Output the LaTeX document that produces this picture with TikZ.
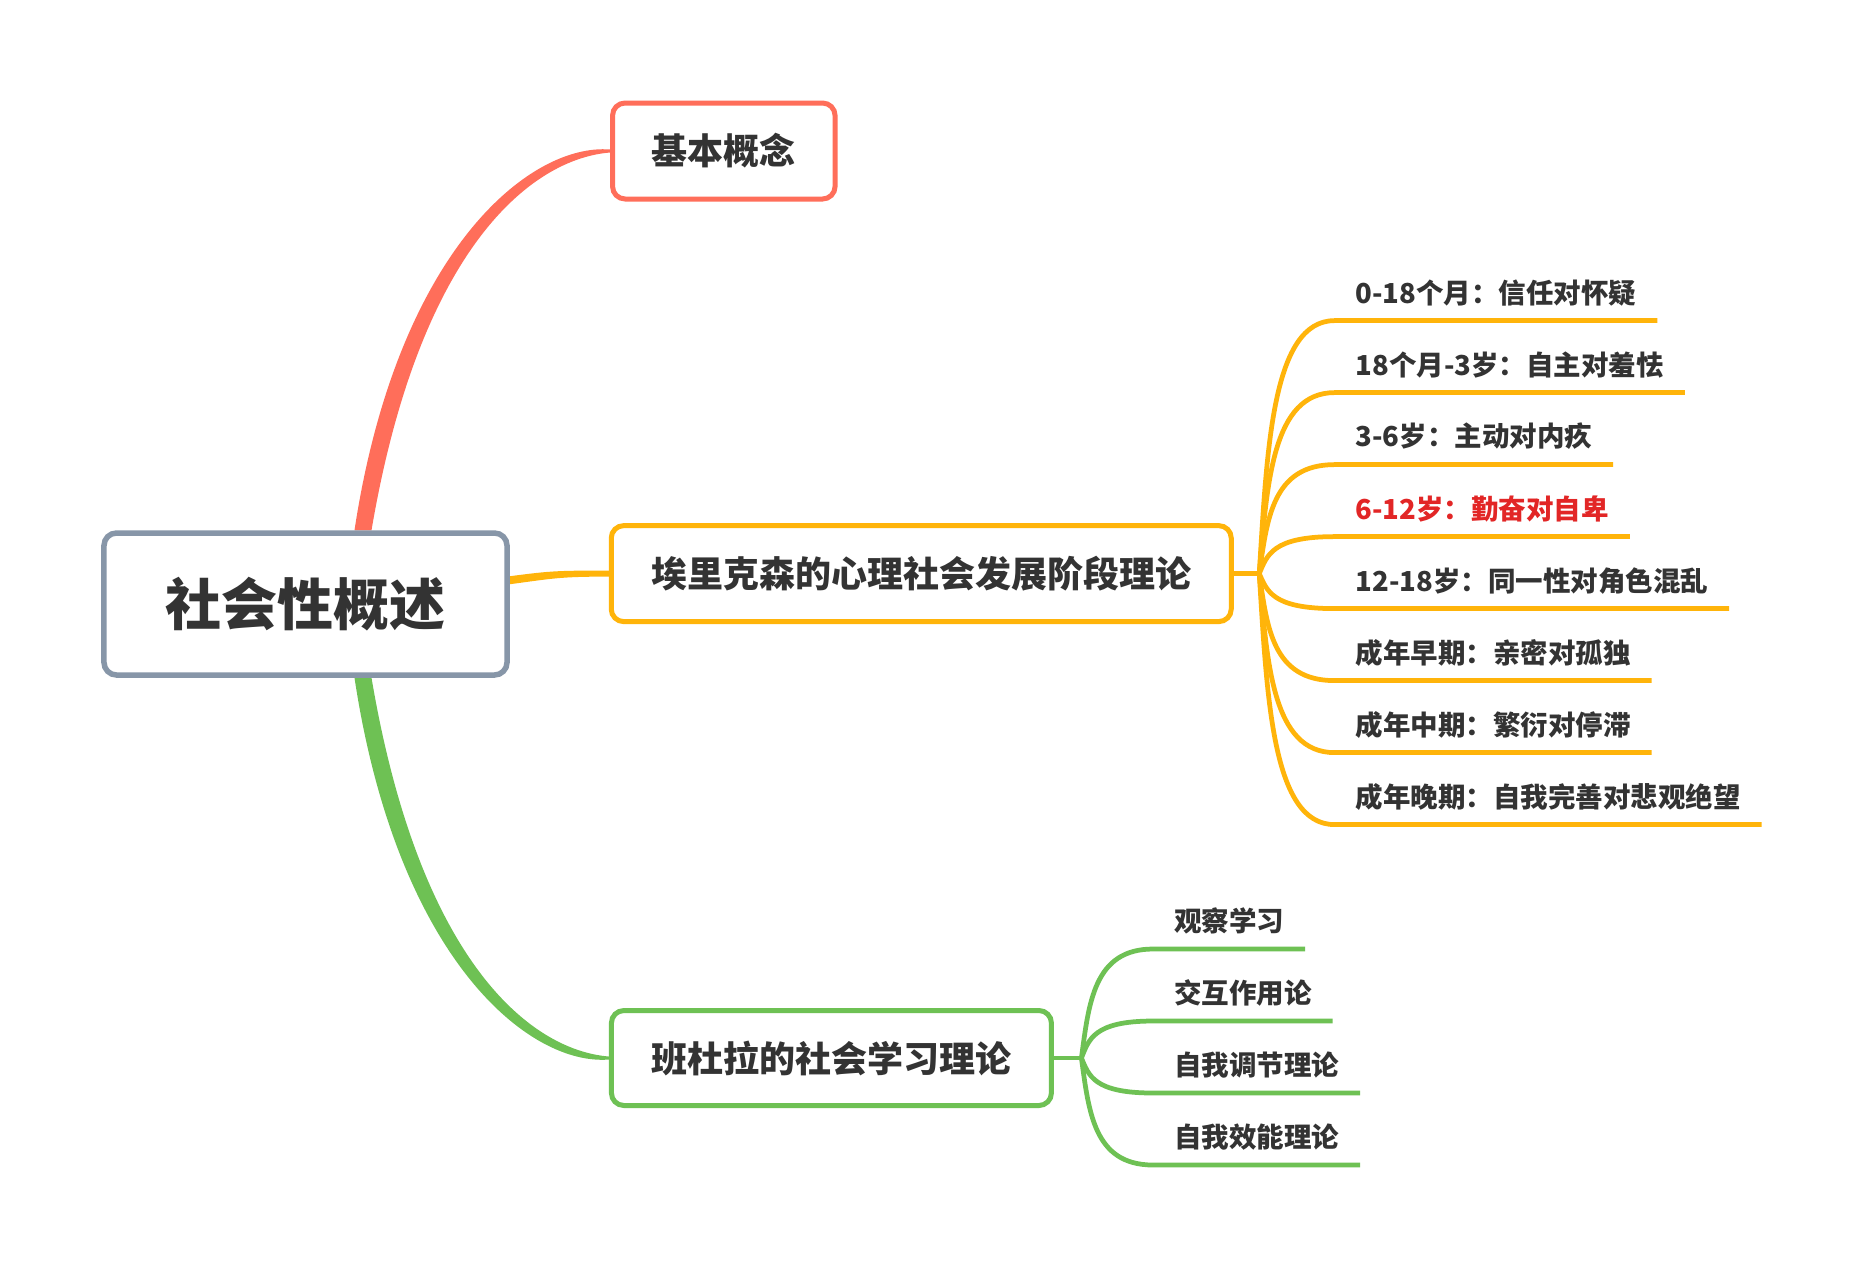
\documentclass[tikz,border=0pt]{standalone}
\usepackage{fontspec}
\setmainfont{Noto Sans CJK SC}
\usetikzlibrary{calc, backgrounds}

\definecolor{rootgray}{HTML}{8796A8}
\definecolor{brred}{HTML}{FF6E5A}
\definecolor{brorange}{HTML}{FFB40A}
\definecolor{brgreen}{HTML}{6EC154}
\definecolor{txtgray}{HTML}{333333}
\definecolor{hired}{HTML}{E22626}

\tikzset{
  topic/.style={draw, fill=white, rounded corners=5pt, line width=2pt, inner sep=0pt,
    text=txtgray, font=\bfseries\fontsize{14.4}{16}\selectfont},
  leaf/.style={anchor=south west, inner xsep=8.2pt, inner ysep=0pt, minimum height=22pt,
    text=txtgray, font=\bfseries\fontsize{11}{13}\selectfont},
  twig/.style={line width=1.9pt}
}

\begin{document}
\begin{tikzpicture}[x=0.4pt, y=-0.4pt]
    \useasboundingbox (0,0) rectangle (1864,1268);

    % Root and main topics
    \node[topic, draw=rootgray, line width=2.2pt, minimum width=161.2pt, minimum height=56.8pt,
        font=\bfseries\fontsize{22.4}{26}\selectfont] (root) at (305.5,604) {社会性概述};
    \node[topic, draw=brred, minimum width=89pt, minimum height=38.4pt] (basic) at (723.8,151) {基本概念};
    \node[topic, draw=brorange, minimum width=248pt, minimum height=38.4pt] (erik) at (921.25,573.6) {埃里克森的心理社会发展阶段理论};
    \node[topic, draw=brgreen, minimum width=176pt, minimum height=38pt] (band) at (831.4,1058) {班杜拉的社会学习理论};

    % Branches from the root (behind the boxes), thick at the root, thin at the topic
    \begin{pgfonlayer}{background}
    \fill[white] (0,0) rectangle (1864,1268);
    \fill[brred] ($(root.north)+(49,0)$) .. controls ($(root.north)+(91.5,-280)$) and ($(basic.west)+(-80,-8)$) .. ($(basic.west)+(0,-1.5)$)
        -- ($(basic.west)+(0,1.5)$) .. controls ($(basic.west)+(-80,8)$) and ($(root.north)+(113.5,-280)$) .. ($(root.north)+(66,0)$) -- cycle;
    \fill[brgreen] ($(root.south)+(49,0)$) .. controls ($(root.south)+(91.5,281)$) and ($(band.west)+(-80,8)$) .. ($(band.west)+(0,1.5)$)
        -- ($(band.west)+(0,-1.5)$) .. controls ($(band.west)+(-80,-8)$) and ($(root.south)+(113.5,281)$) .. ($(root.south)+(66,0)$) -- cycle;
    \fill[brorange] ($(root.east)+(-2,-27.5)$) .. controls +(45,-6) and +(-50,0) .. ($(erik.west)+(0,-3)$)
        -- ($(erik.west)+(0,3)$) .. controls +(-50,0) and +(45,-6) .. ($(root.east)+(-2,-19.5)$) -- cycle;
    \end{pgfonlayer}

    % Erikson stages
    \coordinate (ej) at ($(erik.east)+(25.5,0)$);
    \draw[twig, brorange] (erik.east) -- (ej);
    \foreach \t/\c [count=\i] in {0-18个月：信任对怀疑/txtgray, 18个月-3岁：自主对羞怯/txtgray,
        3-6岁：主动对内疚/txtgray, 6-12岁：勤奋对自卑/hired, 12-18岁：同一性对角色混乱/txtgray,
        成年早期：亲密对孤独/txtgray, 成年中期：繁衍对停滞/txtgray, 成年晚期：自我完善对悲观绝望/txtgray}{
        \pgfmathsetmacro\dy{320.6+72*(\i-1)-573.6}
        \node[leaf, text=\c] (e\i) at (1334.6,{320.6+72*(\i-1)}) {\t};
        \draw[twig, brorange] (ej) .. controls +(7.8,{0.5*\dy}) and +(-62.3,0) .. (e\i.south west) -- (e\i.south east);
    }

    % Bandura
    \coordinate (bj) at ($(band.east)+(27.5,0)$);
    \draw[twig, brgreen] (band.east) -- (bj);
    \foreach \t [count=\i] in {观察学习, 交互作用论, 自我调节理论, 自我效能理论}{
        \pgfmathsetmacro\dy{949+72*(\i-1)-1058}
        \node[leaf] (b\i) at (1153,{949+72*(\i-1)}) {\t};
        \draw[twig, brgreen] (bj) .. controls +(7.4,{0.5*\dy}) and +(-59.4,0) .. (b\i.south west) -- (b\i.south east);
    }
\end{tikzpicture}
\end{document}
